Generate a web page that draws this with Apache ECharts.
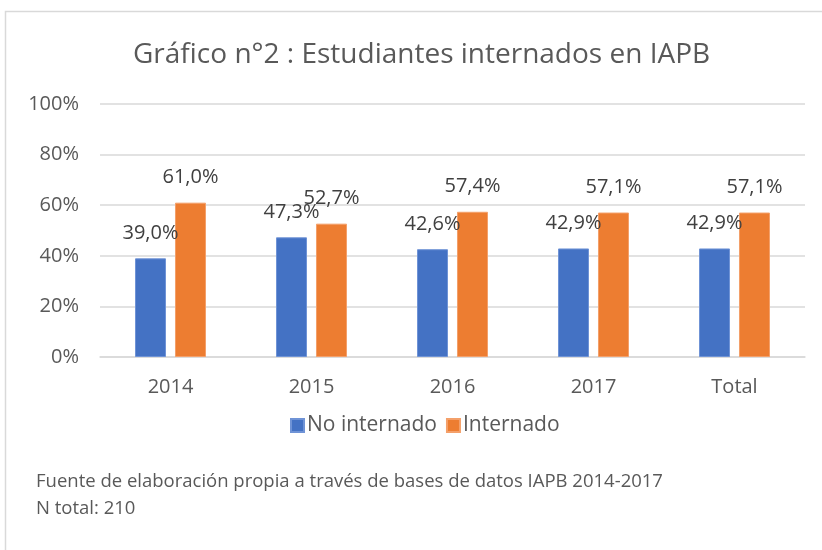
<!DOCTYPE html>
<html>
<head>
<meta charset="utf-8">
<script src="https://cdn.jsdelivr.net/npm/echarts@6/dist/echarts.min.js"></script>
<style>
  html, body { margin: 0; padding: 0; background: #fff; }
  #chart { width: 822px; height: 550px; }
</style>
</head>
<body>
<div id="chart"></div>
<script>
  // datos del gráfico
  var categories = ['2014', '2015', '2016', '2017', 'Total'];
  var noInternado = [39.0, 47.3, 42.6, 42.9, 42.9];
  var internado = [61.0, 52.7, 57.4, 57.1, 57.1];
  var yTicks = [0, 20, 40, 60, 80, 100];
  var footnote = [
    'Fuente de elaboración propia a través de bases de datos IAPB 2014-2017',
    'N total: 210'
  ];

  var font = '"Open Sans", "Noto Sans", sans-serif';
  var textColor = '#595959';

  function pct(p) {
    return p.value.toFixed(1).replace('.', ',') + '%';
  }

  var mychart = echarts.init(document.getElementById('chart'));
  mychart.setOption({
    animation: false,
    textStyle: { fontFamily: font },
    title: {
      text: 'Gráfico n°2 : Estudiantes internados en IAPB',
      left: 128,
      top: 36,
      textStyle: { fontFamily: font, fontSize: 28, fontWeight: 'normal', color: textColor }
    },
    legend: {
      data: ['No internado', 'Internado'],
      left: 285,
      top: 410,
      itemWidth: 13,
      itemHeight: 13,
      itemGap: 9,
      icon: 'rect',
      textStyle: { fontFamily: font, fontSize: 21, color: textColor, padding: [0, 0, 0, -2] }
    },
    grid: { left: 100, right: 17, top: 104, bottom: 193 },
    xAxis: {
      type: 'category',
      data: categories,
      axisLine: { lineStyle: { color: '#d9d9d9', width: 1.5 } },
      axisTick: { show: false },
      axisLabel: { margin: 20, fontSize: 20, color: textColor, fontFamily: font }
    },
    yAxis: {
      type: 'value',
      min: yTicks[0],
      max: yTicks[yTicks.length - 1],
      interval: 20,
      axisLine: { show: false },
      axisTick: { show: false },
      splitLine: { lineStyle: { color: '#d9d9d9', width: 1.5 } },
      axisLabel: { formatter: '{value}%', margin: 21, fontSize: 20, color: textColor, fontFamily: font }
    },
    series: [
      {
        name: 'No internado',
        type: 'bar',
        data: noInternado,
        barWidth: 31,
        barGap: '29%',
        itemStyle: { color: '#4472C4', borderColor: '#6f93d6', borderWidth: 1 },
        label: { show: true, position: 'top', distance: 15, formatter: pct, fontSize: 20, color: '#404040', fontFamily: font }
      },
      {
        name: 'Internado',
        type: 'bar',
        data: internado,
        barWidth: 31,
        itemStyle: { color: '#ED7D31', borderColor: '#f4a06a', borderWidth: 1 },
        label: { show: true, position: 'top', distance: 15, formatter: pct, fontSize: 20, color: '#404040', fontFamily: font }
      }
    ],
    graphic: [
      {
        type: 'rect',
        silent: true,
        shape: { x: 5.5, y: 11.5, width: 900, height: 700 },
        style: { fill: 'none', stroke: '#d9d9d9', lineWidth: 1.5 }
      },
      {
        type: 'text',
        left: 36,
        top: 472,
        style: { text: footnote[0], fontSize: 18.5, fill: textColor, fontFamily: font }
      },
      {
        type: 'text',
        left: 36,
        top: 499,
        style: { text: footnote[1], fontSize: 18.5, fill: textColor, fontFamily: font }
      }
    ]
  });
</script>
</body>
</html>
